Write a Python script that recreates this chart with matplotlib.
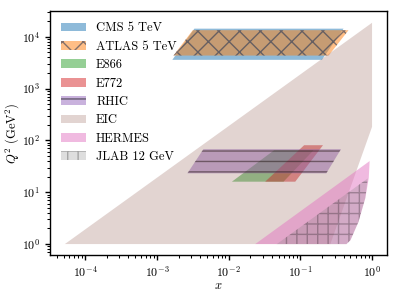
import matplotlib
matplotlib.use("Agg")
import matplotlib.pyplot as plt

plt.rcParams["font.family"] = "serif"
plt.rcParams["font.serif"] = ["cmr10", "DejaVu Serif"]
plt.rcParams["mathtext.fontset"] = "cm"
plt.rcParams["axes.formatter.use_mathtext"] = True
plt.rcParams["font.size"] = 7.2
plt.rcParams["xtick.labelsize"] = 6.9
plt.rcParams["ytick.labelsize"] = 6.9
plt.rcParams["xtick.major.size"] = 2.6
plt.rcParams["ytick.major.size"] = 2.6
plt.rcParams["xtick.minor.size"] = 1.6
plt.rcParams["ytick.minor.size"] = 1.6
plt.rcParams["xtick.major.pad"] = 2.8
plt.rcParams["ytick.major.pad"] = 2.8
plt.rcParams["hatch.linewidth"] = 0.8

# kinematic coverage, polygon corners in (x, Q^2)
cms_x = [1.64e-3, 3.33e-3, 0.40, 0.20]
cms_q2 = [3600, 14400, 14400, 3600]

atlas_x = [1.70e-3, 3.16e-3, 0.47, 0.248]
atlas_q2 = [4356, 13456, 13456, 4356]

e866_x = [0.0111, 0.0432, 0.153, 0.0583]
e866_q2 = [16, 65, 65, 16]

e772_x = [0.0323, 0.113, 0.207, 0.0849]
e772_q2 = [16, 81, 81, 16]

rhic_x = [2.66e-3, 4.45e-3, 0.369, 0.23]
rhic_q2 = [23.2, 68, 68, 23.2]

eic_x = [5.2e-5, 1.0, 1.0, 0.262]
eic_q2 = [1, 1.87e4, 183, 1]

hermes_x = [0.0235, 0.925, 0.90, 0.805, 0.645, 0.50, 0.44]
hermes_q2 = [1, 40, 18.8, 7.7, 2.66, 1.19, 1]

jlab_x = [0.047, 0.87, 0.805, 0.645, 0.50, 0.44]
jlab_q2 = [1, 18.5, 7.7, 2.66, 1.19, 1]

fig = plt.figure(figsize=(3.192, 2.392), dpi=125)
ax = fig.add_axes([0.125, 0.147, 0.845, 0.816])

# linewidth 0 hides the outline, edgecolor only sets the hatch colour
ax.fill(cms_x, cms_q2, facecolor="tab:blue", edgecolor="none", alpha=0.5, label="CMS 5 TeV")
ax.fill(atlas_x, atlas_q2, facecolor="tab:orange", edgecolor="#0a2450", lw=0, alpha=0.5,
        hatch="xx", label="ATLAS 5 TeV")
ax.fill(e866_x, e866_q2, facecolor="tab:green", edgecolor="none", alpha=0.5, label="E866")
ax.fill(e772_x, e772_q2, facecolor="tab:red", edgecolor="none", alpha=0.5, label="E772")
ax.fill(rhic_x, rhic_q2, facecolor="tab:purple", edgecolor="black", lw=0, alpha=0.5,
        hatch="--", label="RHIC")
ax.fill(eic_x, eic_q2, facecolor="tab:brown", edgecolor="none", alpha=0.25, label="EIC")
ax.fill(hermes_x, hermes_q2, facecolor="tab:pink", edgecolor="none", alpha=0.5, label="HERMES")
ax.fill(jlab_x, jlab_q2, facecolor="tab:gray", edgecolor="black", lw=0, alpha=0.25,
        hatch="++", label="JLAB 12 GeV")

ax.set_xscale("log")
ax.set_yscale("log")
ax.set_xlim(10 ** -4.493, 10 ** 0.209)
ax.set_ylim(10 ** -0.212, 10 ** 4.498)
ax.set_xlabel(r"$x$")
ax.set_ylabel(r"$Q^2$ (GeV$^2$)")
ax.xaxis.set_label_coords(0.5, -0.1)
ax.yaxis.set_label_coords(-0.085, 0.5)
ax.legend(loc="upper left", frameon=False)

fig.savefig("out.png", dpi=125)
